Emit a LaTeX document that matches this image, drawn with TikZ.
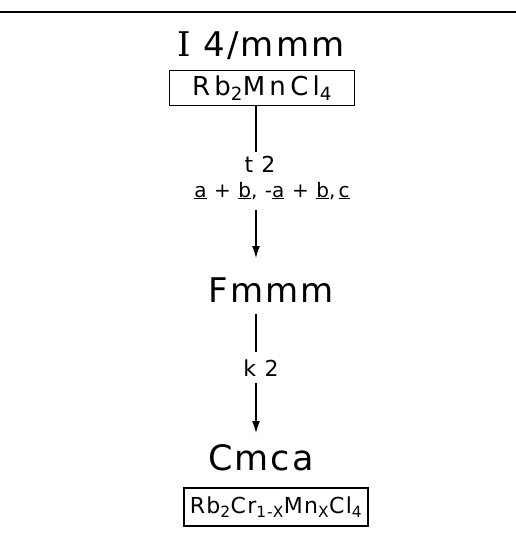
\documentclass[tikz,border=0pt]{standalone}
\usepackage{fontspec}
\setmainfont{DejaVu Sans}
\newfontfamily\serifI{DejaVu Serif}
\newfontfamily\wide[LetterSpace=6]{DejaVu Sans}
\newfontfamily\wider[LetterSpace=16]{DejaVu Sans}
\usetikzlibrary{arrows.meta}
\begin{document}
\begin{tikzpicture}[x=1pt,y=-1pt,
  grp/.style={font=\wide\fontsize{34}{36}\selectfont, inner sep=0pt, anchor=base},
  formula/.style={draw, line width=1.2pt, inner sep=0pt},
  lbl/.style={font=\wide\fontsize{22}{24}\selectfont, inner sep=0pt, anchor=base},
  conn/.style={line width=1.1pt},
  arr/.style={line width=1.1pt, -{Latex[length=12pt,width=8pt]}}]
\useasboundingbox (0,0) rectangle (516,536);
\coordinate (rl) at (0,12);
\coordinate (rr) at (516,12);
\draw[line width=1.3pt] (rl) -- (rr);
\node[grp] (g1) at (261,56) {{\serifI I} 4/mmm};
\node[formula, minimum width=185pt, minimum height=35pt, font=\wider\fontsize{26}{28}\selectfont] (f1) at (262,88) {Rb\textsubscript{2}Mn\,Cl\textsubscript{4}};
\node[lbl] (t2) at (260,172) {t 2};
\node[lbl, font=\wide\fontsize{20}{22}\selectfont] (tr) at (272,197) {\underline{a} + \underline{b}, -\underline{a} + \underline{b},\,\underline{c}};
\node[grp] (g2) at (271,302) {Fmmm};
\node[lbl] (k2) at (261,376) {k 2};
\node[grp, font=\wide\fontsize{35}{37}\selectfont] (g3) at (261,470) {Cmca};
\node[formula, minimum width=184pt, minimum height=38pt, font=\wide\fontsize{22}{24}\selectfont] (f3) at (276,507) {Rb\textsubscript{2}Cr\textsubscript{1-X}Mn\textsubscript{X}Cl\textsubscript{4}};
\coordinate (a1) at (256,0);
\coordinate (e1) at (256,152);
\coordinate (s2) at (256,210);
\coordinate (e3) at (256,352);
\coordinate (s4) at (256,383);
\draw[conn] (f1.south -| a1) -- (e1);
\draw[arr] (s2) -- (256,258) coordinate (h2);
\draw[conn] (g2.south -| a1) ++(0,12) -- (e3);
\draw[arr] (s4) -- (256,433);
\end{tikzpicture}
\end{document}
